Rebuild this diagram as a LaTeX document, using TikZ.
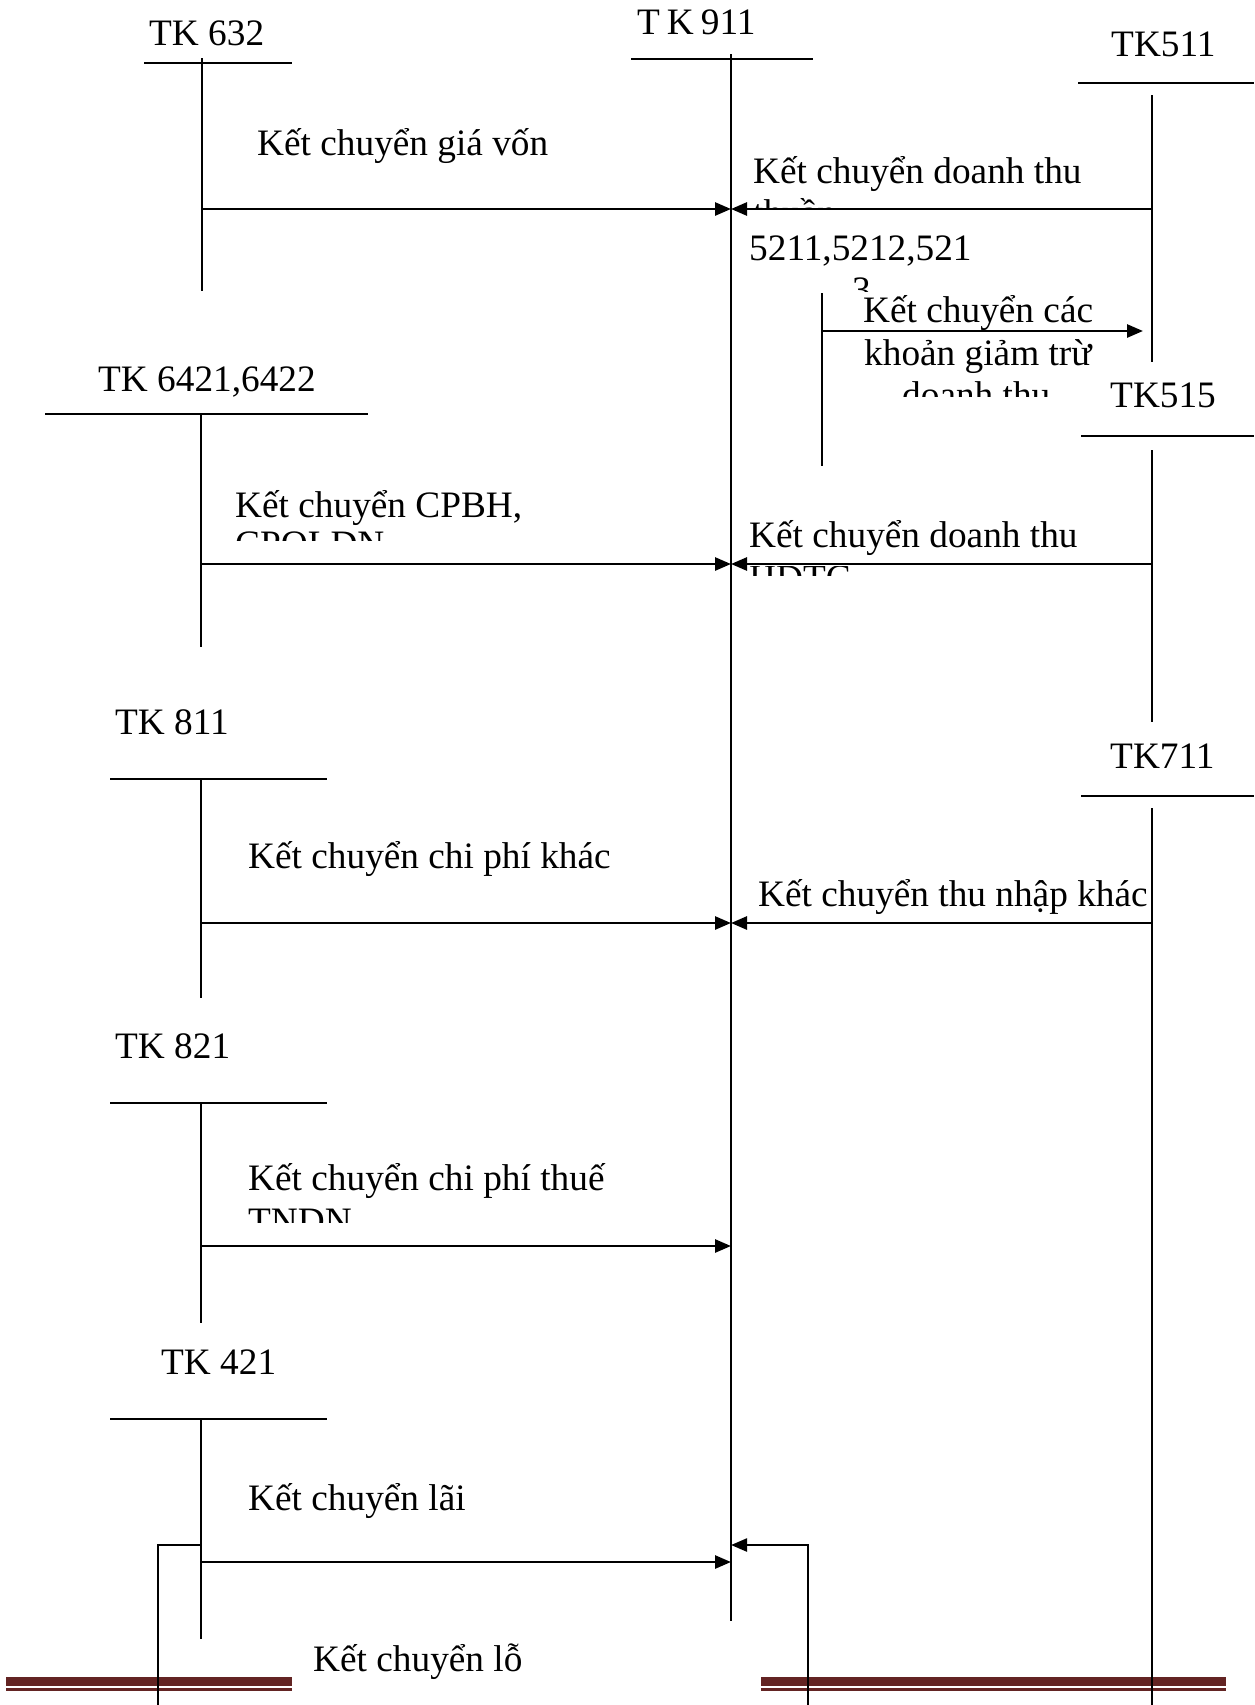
\documentclass[tikz,border=0pt]{standalone}
\usepackage{fontspec}
\setmainfont{Liberation Serif}
\usetikzlibrary{arrows.meta}
\definecolor{barred}{RGB}{99,36,35}
\begin{document}
\begin{tikzpicture}[x=1pt,y=-1pt,
  lbl/.style={anchor=base west,inner sep=0pt,font=\fontsize{37.3}{44}\selectfont},
  tline/.style={line width=2.7pt},
  vline/.style={line width=2.2pt},
  arr/.style={line width=2.7pt,-{Triangle[length=16pt,width=13pt]}},
]
\useasboundingbox (0,0) rectangle (1254,1705);
% footer bars
\fill[barred] (6,1677) rectangle (292,1686);
\fill[barred] (6,1688) rectangle (292,1690.5);
\fill[barred] (761,1677) rectangle (1226,1686);
\fill[barred] (761,1688) rectangle (1226,1690.5);

% account labels
\node[lbl] (t632) at (149,45) {TK 632};
\node[lbl] (t911) at (637,34) {\spaceskip=7pt\relax T K 911};
\node[lbl] (t511) at (1111,56) {TK511};
\node[lbl] (t6421) at (98,391) {TK 6421,6422};
\node[lbl] (t515) at (1110,407) {TK515};
\node[lbl] (t811) at (115,734) {TK 811};
\node[lbl] (t711) at (1110,768) {TK711};
\node[lbl] (t821) at (115,1058) {TK 821};
\node[lbl] (t421) at (161,1374) {TK 421};

% T-account coordinates
\coordinate (h632l) at (144,63);  \coordinate (h632r) at (292,63);
\coordinate (v632a) at (202,58);  \coordinate (v632b) at (202,291);
\coordinate (h911l) at (631,59);  \coordinate (h911r) at (813,59);
\coordinate (v911a) at (731,54);  \coordinate (v911b) at (731,1621);
\coordinate (h511l) at (1078,83); \coordinate (h511r) at (1254,83);
\coordinate (v511a) at (1152,95); \coordinate (v511b) at (1152,362);
\coordinate (v521a) at (822,293); \coordinate (v521b) at (822,466);
\coordinate (h6421l) at (45,414); \coordinate (h6421r) at (368,414);
\coordinate (v6421a) at (201,414); \coordinate (v6421b) at (201,647);
\coordinate (h515l) at (1081,436); \coordinate (h515r) at (1254,436);
\coordinate (v515a) at (1152,450); \coordinate (v515b) at (1152,722);
\coordinate (h811l) at (110,779); \coordinate (h811r) at (327,779);
\coordinate (v811a) at (201,779); \coordinate (v811b) at (201,998);
\coordinate (h711l) at (1081,796); \coordinate (h711r) at (1254,796);
\coordinate (v711a) at (1152,808); \coordinate (v711b) at (1152,1705);
\coordinate (h821l) at (110,1103); \coordinate (h821r) at (327,1103);
\coordinate (v821a) at (201,1103); \coordinate (v821b) at (201,1323);
\coordinate (h421l) at (110,1419); \coordinate (h421r) at (327,1419);
\coordinate (v421a) at (201,1419); \coordinate (v421b) at (201,1639);

\foreach \k in {632,911,511,6421,515,811,711,821,421}{
  \draw[tline] (h\k l) -- (h\k r);
}
\foreach \k in {632,911,511,521,6421,515,811,711,821,421}{
  \draw[vline] (v\k a) -- (v\k b);
}

% transfer arrows
\draw[arr] (v632a |- 0,209) -- (v911a |- 0,209);
\draw[arr] (v511a |- 0,209) -- (v911a |- 0,209);
\draw[arr] (v521a |- 0,331) -- (1143,331);
\draw[arr] (v6421a |- 0,564) -- (v911a |- 0,564);
\draw[arr] (v515a |- 0,564) -- (v911a |- 0,564);
\draw[arr] (v811a |- 0,923) -- (v911a |- 0,923);
\draw[arr] (v711a |- 0,923) -- (v911a |- 0,923);
\draw[arr] (v821a |- 0,1246) -- (v911a |- 0,1246);
\draw[arr] (v421a |- 0,1562) -- (v911a |- 0,1562);
\coordinate (lossL) at (158,1545);
\coordinate (lossR) at (808,1545);
\draw[vline] (v421a |- lossL) -- (lossL) -- (lossL |- 0,1705);
\draw[vline,-{Triangle[length=16pt,width=13pt]}] (lossR |- 0,1705) -- (lossR) -- (v911a |- lossR);

% labels
\node[lbl] (l1) at (257,155) {Kết chuyển giá vốn};
\node[lbl] (l2) at (753,183) {Kết chuyển doanh thu};
\begin{scope}
  \clip (740,190) rectangle (1100,207);
  \node[lbl] at (753,225) {thuần};
\end{scope}
\node[lbl] (l3) at (749,260) {5211,5212,521};
\begin{scope}
  \clip (840,270) rectangle (880,291);
  \node[lbl] at (852,302) {3};
\end{scope}
\node[lbl] (l4a) at (863,322) {Kết chuyển các};
\node[lbl] (l4b) at (864,365) {khoản giảm trừ};
\begin{scope}
  \clip (880,375) rectangle (1070,396);
  \node[lbl] at (902,407) {doanh thu};
\end{scope}
\node[lbl] (l5) at (235,517) {Kết chuyển CPBH,};
\begin{scope}
  \clip (220,525) rectangle (600,540);
  \node[lbl] at (235,556) {CPQLDN};
\end{scope}
\node[lbl] (l6) at (749,547) {Kết chuyển doanh thu};
\begin{scope}
  \clip (740,566) rectangle (1000,575);
  \node[lbl] at (749,590) {HĐTC};
\end{scope}
\node[lbl] (l7) at (248,868) {Kết chuyển chi phí khác};
\node[lbl] (l8) at (758,906) {Kết chuyển thu nhập khác};
\node[lbl] (l9) at (248,1190) {Kết chuyển chi phí thuế};
\begin{scope}
  \clip (240,1200) rectangle (600,1222);
  \node[lbl] at (248,1233) {TNDN};
\end{scope}
\node[lbl] (l10) at (248,1510) {Kết chuyển lãi};
\node[lbl] (l11) at (313,1671) {Kết chuyển lỗ};
\end{tikzpicture}
\end{document}
